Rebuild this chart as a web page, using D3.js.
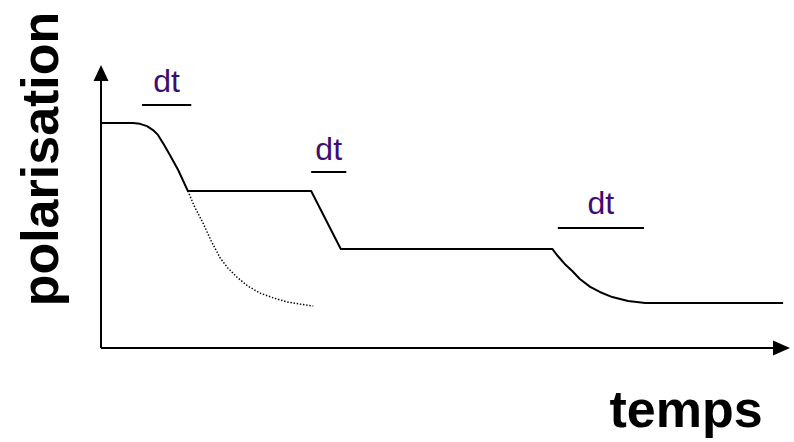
<!DOCTYPE html>
<html>
<head>
<meta charset="utf-8">
<script src="https://cdn.jsdelivr.net/npm/d3@7"></script>
<style>
  body { margin: 0; background: #fff; }
  svg { display: block; font-family: "Liberation Sans", Arial, sans-serif; }
</style>
</head>
<body>
<svg id="chart" width="794" height="442"></svg>
<script>
// Schematic: polarisation vs temps, three drops each marked with a "dt" interval.

// main (solid) curve
const solidTime = [0, 4.64, 5.66, 6.68, 7.55, 8.27, 9.0, 10.0, 11.2, 12.6, 30.5, 34.8,
                   65.5, 66.3, 67.3, 68.4, 69.5, 71.0, 72.4, 74.2, 76.5, 79.0, 99.0];
const solidPol  = [79.5, 79.5, 79.2, 78.4, 77.0, 75.3, 72.4, 68.2, 62.9, 55.5, 55.5, 35.0,
                   35.0, 32.5, 29.7, 27.2, 24.4, 21.6, 19.8, 18.0, 16.6, 15.9, 15.9];

// dotted curve (continued relaxation)
const dotTime = [12.6, 13.6, 14.8, 16.0, 17.3, 18.4, 19.7, 21.3, 23.1, 25.0, 27.0, 28.9, 30.8];
const dotPol  = [55.5, 49.8, 44.2, 37.8, 31.8, 28.3, 25.1, 21.9, 19.4, 17.7, 16.3, 15.5, 14.8];

// "dt" markers: bar start/end, bar level, label level
const dtStart = [5.95, 30.5, 66.3];
const dtEnd   = [13.1, 35.6, 78.8];
const dtBar   = [85.9, 62.2, 42.4];
const dtText  = [90.5, 66.4, 47.3];
const dtLabel = ["dt", "dt", "dt"];

const xLabel = "temps";
const yLabel = "polarisation";

const svg = d3.select("#chart");

const x = d3.scaleLinear().domain([0, 100]).range([101, 790]);
const y = d3.scaleLinear().domain([0, 100]).range([348, 65]);

const line = d3.line()
  .x(d => x(d[0]))
  .y(d => y(d[1]));

// axes with arrowheads
const ink = "#000";
svg.append("line")
  .attr("x1", x(0)).attr("y1", y(0))
  .attr("x2", x(0)).attr("y2", y(100) + 14)
  .attr("stroke", ink).attr("stroke-width", 2);
svg.append("line")
  .attr("x1", x(0)).attr("y1", y(0))
  .attr("x2", x(100) - 14).attr("y2", y(0))
  .attr("stroke", ink).attr("stroke-width", 2);

svg.append("path")
  .attr("d", `M${x(0)},${y(100)} L${x(0) - 7.5},${y(100) + 16} L${x(0) + 7.5},${y(100) + 16} Z`)
  .attr("fill", ink);
svg.append("path")
  .attr("d", `M${x(100)},${y(0)} L${x(100) - 17},${y(0) - 7.5} L${x(100) - 17},${y(0) + 7.5} Z`)
  .attr("fill", ink);

// curves
svg.append("path")
  .datum(dotTime.map((t, i) => [t, dotPol[i]]))
  .attr("fill", "none")
  .attr("stroke", ink)
  .attr("stroke-width", 1.5)
  .attr("stroke-dasharray", "1.4,1.8")
  .attr("d", line);

svg.append("path")
  .datum(solidTime.map((t, i) => [t, solidPol[i]]))
  .attr("fill", "none")
  .attr("stroke", ink)
  .attr("stroke-width", 2)
  .attr("stroke-linejoin", "round")
  .attr("d", line);

// dt markers
const purple = "#3f0c70";
dtLabel.forEach((lab, i) => {
  svg.append("line")
    .attr("x1", x(dtStart[i])).attr("x2", x(dtEnd[i]))
    .attr("y1", y(dtBar[i])).attr("y2", y(dtBar[i]))
    .attr("stroke", ink).attr("stroke-width", 2);
  svg.append("text")
    .attr("x", x((dtStart[i] + dtEnd[i]) / 2))
    .attr("y", y(dtText[i]))
    .attr("text-anchor", "middle")
    .attr("font-size", 32)
    .attr("fill", purple)
    .text(lab);
});

// axis titles
svg.append("text")
  .attr("transform", "translate(58,159) rotate(-90)")
  .attr("text-anchor", "middle")
  .attr("font-size", 52)
  .attr("font-weight", "bold")
  .attr("fill", ink)
  .text(yLabel);

svg.append("text")
  .attr("x", 686)
  .attr("y", 427)
  .attr("text-anchor", "middle")
  .attr("font-size", 52)
  .attr("font-weight", "bold")
  .attr("fill", ink)
  .text(xLabel);
</script>
</body>
</html>
